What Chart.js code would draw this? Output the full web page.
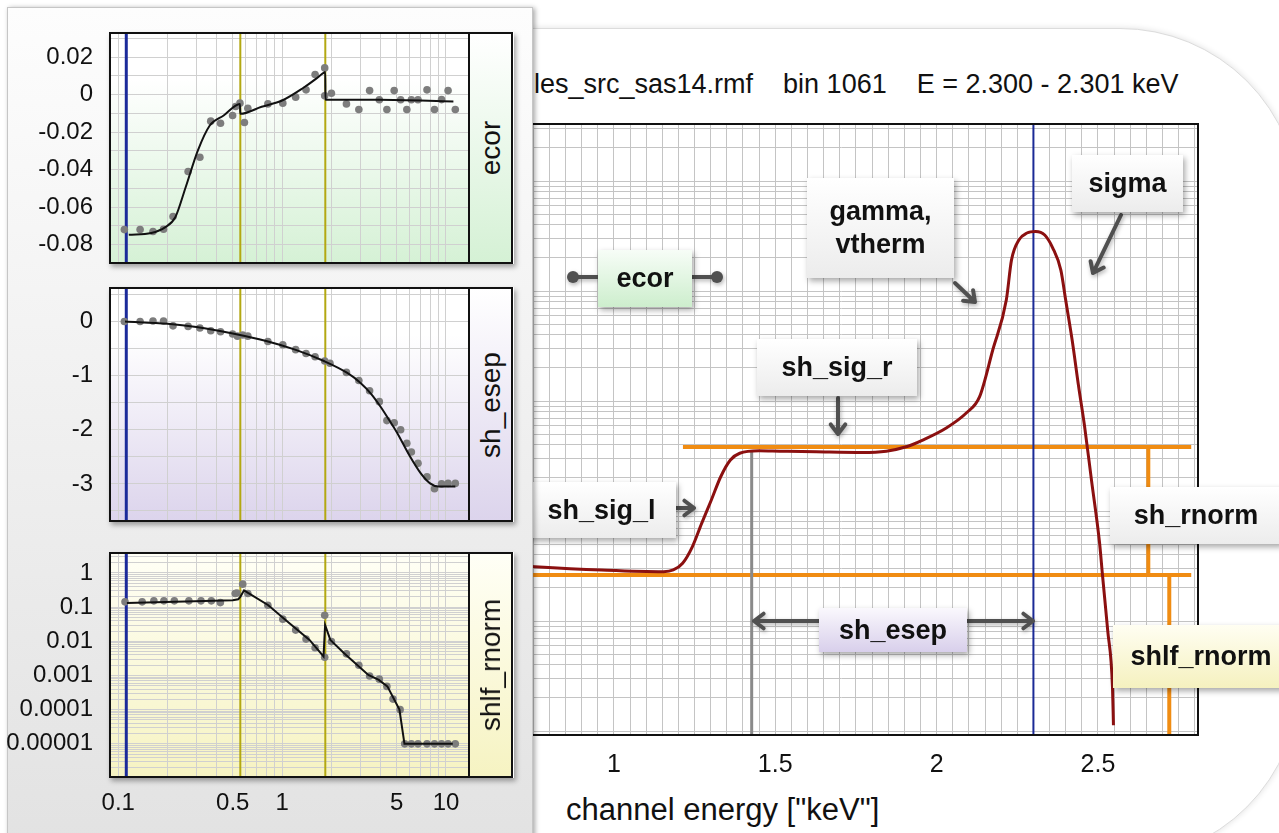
<!DOCTYPE html>
<html>
<head>
<meta charset="utf-8">
<title>rmf channel response</title>
<script src="https://cdn.jsdelivr.net/npm/chart.js@4.4.1/dist/chart.umd.min.js"></script>
<style>
body { margin:0; width:1279px; height:833px; overflow:hidden; position:relative; background:#fff;
       font-family:"Liberation Sans", Arial, Helvetica, sans-serif; color:#111; }
.abs { position:absolute; }
#card { left:500px; top:28px; width:800px; height:832px; box-sizing:border-box; border:1px solid #dcdcdc;
        border-radius:0 180px 180px 0; box-shadow:0 0 6px rgba(0,0,0,0.12); background:#fff; }
#title { left:534px; top:68px; font-size:27px; line-height:32px; white-space:pre; }
#xtitle { left:566px; top:790px; font-size:31px; line-height:40px; white-space:pre; }
#main { left:470px; top:100px; }
#arrows { left:0; top:0; z-index:5; pointer-events:none; filter:drop-shadow(1px 2px 2px rgba(0,0,0,0.3)); }
.tag { position:absolute; z-index:6; box-sizing:border-box; display:flex; align-items:center; justify-content:center;
       text-align:center; font-weight:bold; font-size:27px; line-height:33px; color:#111;
       background:linear-gradient(#ffffff,#ececec); box-shadow:2px 3px 6px rgba(0,0,0,0.35); }
#leftbox { left:7px; top:7px; width:526px; height:850px; box-sizing:border-box; z-index:10;
           background:linear-gradient(#fdfdfd,#e2e2e2); border:1px solid #c6c6c6; box-shadow:2px 1px 5px rgba(0,0,0,0.35); }
.shadow { z-index:11; background:#fff; box-shadow:2px 3px 5px rgba(0,0,0,0.35); }
.pc { z-index:12; }
.strip { z-index:13; box-sizing:border-box; border:2px solid #111; }
.strip span { position:absolute; left:50%; top:50%; transform:translate(-50%,-50%) rotate(-90deg);
              font-size:28px; white-space:nowrap; }
</style>
</head>
<body>
<div id="card" class="abs"></div>
<div id="title" class="abs">les_src_sas14.rmf    bin 1061    E = 2.300 - 2.301 keV</div>
<canvas id="main" class="abs" width="740" height="675"></canvas>
<div id="xtitle" class="abs">channel energy ["keV"]</div>

<svg id="arrows" class="abs" width="1279" height="833"></svg>

<div class="tag" style="left:598px;top:250px;width:94px;height:57px;background:linear-gradient(#f7fdf7,#cdeecd)">ecor</div>
<div class="tag" style="left:807px;top:178px;width:147px;height:100px">gamma,<br>vtherm</div>
<div class="tag" style="left:1072px;top:155px;width:111px;height:57px">sigma</div>
<div class="tag" style="left:757px;top:339px;width:160px;height:57px">sh_sig_r</div>
<div class="tag" style="left:527px;top:482px;width:149px;height:56px">sh_sig_l</div>
<div class="tag" style="left:1110px;top:487px;width:172px;height:57px">sh_rnorm</div>
<div class="tag" style="left:1113px;top:625px;width:176px;height:63px;background:linear-gradient(#fffef2,#f5f1bf)">shlf_rnorm</div>
<div class="tag" style="left:819px;top:608px;width:148px;height:44px;background:linear-gradient(#faf8fd,#d8cfeb)">sh_esep</div>

<div id="leftbox" class="abs"></div>

<div class="abs shadow" style="left:109px;top:32px;width:405px;height:232px"></div>
<canvas id="p1" class="abs pc" style="left:0;top:21px" width="475" height="254"></canvas>
<div class="abs strip" style="left:468px;top:32px;width:45px;height:232px;background:linear-gradient(#ffffff,#d5f1d5)"><span>ecor</span></div>

<div class="abs shadow" style="left:109px;top:287px;width:405px;height:235px"></div>
<canvas id="p2" class="abs pc" style="left:0;top:276px" width="475" height="257"></canvas>
<div class="abs strip" style="left:468px;top:287px;width:45px;height:235px;background:linear-gradient(#ffffff,#dcd4ec)"><span>sh_esep</span></div>

<div class="abs shadow" style="left:109px;top:552px;width:405px;height:226px"></div>
<canvas id="p3" class="abs pc" style="left:0;top:541px" width="475" height="281"></canvas>
<div class="abs strip" style="left:468px;top:552px;width:45px;height:226px;background:linear-gradient(#fffff6,#f6f3c2)"><span>shlf_rnorm</span></div>

<script>
Chart.defaults.font.family = '"Liberation Sans", Arial, Helvetica, sans-serif';
Chart.defaults.color = '#111';

// ---- main panel: response of channel bin 1061 ----
const chanEnergy = [0.70, 0.755, 0.962, 1.154, 1.184, 1.213, 1.243, 1.272, 1.302, 1.331, 1.361, 1.390,
  1.450, 1.514, 1.627, 1.771, 1.844, 1.906, 1.957, 2.030, 2.092, 2.133, 2.174, 2.216, 2.232, 2.255,
  2.280, 2.307, 2.335, 2.360, 2.385, 2.400, 2.420, 2.440, 2.458, 2.480, 2.505, 2.514, 2.530, 2.545, 2.548];
const chanResp = [3.2e-4, 3.12e-4, 2.91e-4, 2.81e-4, 2.91e-4, 3.35e-4, 4.73e-4, 7.73e-4, 1.26e-3, 2.05e-3, 2.91e-3, 3.35e-3,
  3.53e-3, 3.5e-3, 3.45e-3, 3.4e-3, 3.5e-3, 3.84e-3, 4.42e-3, 5.69e-3, 7.78e-3, 0.0109, 0.0291, 0.0828, 0.191, 0.291,
  0.337, 0.348, 0.323, 0.246, 0.155, 0.0828, 0.0359, 0.0136, 6.05e-3, 1.9e-3, 5.12e-4, 2.62e-4, 8.3e-5, 2.51e-5, 1.13e-5];
const mainXTicks = [1, 1.5, 2, 2.5];
const mainX = [0.6, 2.81];
const mainY = [9.2e-6, 3.3];
const chanE = 2.3;          // blue line
const esepE = 1.427;        // grey line, shoulder edge
const esepTop = 3.45e-3;
const shelfHi = 3.82e-3;    // orange levels
const shelfLo = 2.62e-4;
const shelfHiStart = 1.214;
const shelfEnd = 2.789;
const shRnormE = 2.656;
const shlfRnormE = 2.721;

// ---- left panels: parameters vs energy ----
const parXTicks = [0.1, 0.5, 1, 5, 10];
const parX = [0.0891, 13.82];
const blueE = 0.112;
const edgeE = [0.556, 1.835];

const ecorPtE = [0.109, 0.136, 0.163, 0.189, 0.216, 0.267, 0.315, 0.367, 0.421, 0.499, 0.521, 0.553, 0.589, 0.618,
  0.819, 1.01, 1.21, 1.40, 1.59, 1.82, 1.82, 2.0, 2.47, 2.94, 3.42, 3.92, 4.36, 4.83, 5.29, 5.77, 6.15, 6.75,
  7.66, 8.51, 9.4, 10.3, 11.4];
const ecorPtV = [-0.072, -0.072, -0.073, -0.0718, -0.065, -0.041, -0.0334, -0.0142, -0.0153, -0.0112, -0.0064,
  -0.0046, -0.0149, -0.0073, -0.005, -0.0046, -0.0014, 0.0025, 0.0107, 0.0142, -0.0007, 0.0007, -0.005, -0.008,
  0.0021, -0.0028, -0.008, 0.0021, -0.0028, -0.008, -0.0028, -0.0028, 0.0025, -0.008, -0.0027, 0.0021, -0.008];
const ecorFitE = [0.116, 0.159, 0.193, 0.223, 0.258, 0.306, 0.362, 0.44, 0.553, 0.556, 0.75, 1.0, 1.35, 1.6,
  1.78, 1.835, 1.838, 3.9, 11.1];
const ecorFitV = [-0.0748, -0.0738, -0.0708, -0.0654, -0.0494, -0.0299, -0.0165, -0.0112, -0.005, -0.0103,
  -0.0065, -0.0032, 0.0036, 0.0082, 0.0114, 0.012, -0.0028, -0.0028, -0.0037];
const ecorY = [-0.0898, 0.0328];
const ecorYTicks = [0.02, 0, -0.02, -0.04, -0.06, -0.08];

const esepPtE = [0.109, 0.136, 0.163, 0.189, 0.216, 0.267, 0.315, 0.367, 0.421, 0.499, 0.534, 0.575, 0.618,
  0.819, 1.01, 1.21, 1.40, 1.59, 1.82, 1.96, 2.47, 2.94, 3.42, 3.92, 4.36, 4.83, 5.29, 5.77, 6.15, 6.75, 7.66,
  8.51, 9.4, 10.3, 11.4];
const esepPtV = [0, 0, 0.01, 0.01, -0.08, -0.09, -0.12, -0.17, -0.19, -0.23, -0.27, -0.25, -0.27, -0.37, -0.43,
  -0.52, -0.59, -0.65, -0.73, -0.77, -0.94, -1.09, -1.28, -1.48, -1.83, -1.87, -2.0, -2.25, -2.41, -2.62, -2.87,
  -3.09, -3.0, -2.99, -2.99];
const esepFitE = [0.11, 0.2, 0.3, 0.5, 0.8, 1.2, 1.8, 2.5, 3.0, 3.5, 4.0, 4.5, 5.0, 6.0, 7.0, 8.0, 9.0, 11.4];
const esepFitV = [0, -0.04, -0.1, -0.22, -0.36, -0.52, -0.73, -0.95, -1.13, -1.34, -1.58, -1.82, -2.04, -2.48,
  -2.8, -2.99, -3.05, -3.05];
const esepY = [-3.685, 0.619];
const esepYTicks = [0, -1, -2, -3];

const rnormPtE = [0.11, 0.14, 0.165, 0.19, 0.22, 0.27, 0.32, 0.37, 0.42, 0.517, 0.53, 0.575, 0.618, 0.819, 1.01,
  1.21, 1.40, 1.59, 1.82, 1.82, 2.0, 2.47, 2.94, 3.42, 3.92, 4.36, 4.75, 5.25, 5.6, 6.15, 6.75, 7.66, 8.51, 9.4,
  10.3, 11.4];
const rnormPtV = [0.143, 0.143, 0.153, 0.153, 0.153, 0.153, 0.153, 0.153, 0.136, 0.25, 0.26, 0.47, 0.25, 0.114,
  0.0445, 0.0213, 0.0116, 0.0065, 0.058, 0.0034, 0.0098, 0.0043, 0.002, 0.00097, 0.00078, 0.00048, 0.000204,
  0.0001, 1e-5, 1e-5, 1e-5, 1e-5, 1e-5, 1e-5, 1e-5, 1e-5];
const rnormFitE = [0.113, 0.5, 0.54, 0.556, 0.586, 0.62, 0.824, 1.05, 1.47, 1.79, 1.83, 1.97, 2.39, 3.36, 3.89, 4.39, 5.2, 5.58, 11.0];
const rnormFitV = [0.133, 0.16, 0.17, 0.2, 0.31, 0.26, 0.114, 0.042, 0.011, 0.0036, 0.03, 0.011, 0.0045,
  0.00104, 0.00074, 0.00048, 0.0001, 1e-5, 1e-5];
const rnormY = [1.07e-6, 3.84];
const rnormYTicks = [1, 0.1, 0.01, 0.001, 0.0001, 0.00001];

// helpers
function xy(xs, ys) { return xs.map((x, i) => ({ x: x, y: ys[i] })); }
function seg(x0, y0, x1, y1, color, w) {
  return { data: [{ x: x0, y: y0 }, { x: x1, y: y1 }], borderColor: color, borderWidth: w,
           pointRadius: 0, borderCapStyle: 'butt', tension: 0 };
}
function logTicks(lo, hi) {
  const out = [];
  for (let e = Math.floor(Math.log10(lo)); e <= Math.ceil(Math.log10(hi)); e++) {
    for (let s = 1; s <= 9; s++) {
      const v = e < 0 ? s / Math.pow(10, -e) : s * Math.pow(10, e);
      if (v >= lo && v <= hi) out.push(v);
    }
  }
  return out;
}
function stepTicks(lo, hi, div) {
  const out = [];
  for (let k = Math.ceil(lo * div); k <= Math.floor(hi * div); k++) out.push(k / div);
  return out;
}
function setTicks(vals) { return s => { s.ticks = vals.map(v => ({ value: v })); }; }

// plot background + frame
const plotBg = {
  id: 'plotBg',
  beforeDraw(chart, args, o) {
    if (!o.to) return;
    const a = chart.chartArea, c = chart.ctx;
    const g = c.createLinearGradient(0, a.top, 0, a.bottom);
    g.addColorStop(0, o.from);
    g.addColorStop(o.mid || 0, o.from);
    g.addColorStop(1, o.to);
    c.save();
    c.fillStyle = g;
    c.fillRect(a.left, a.top, a.right - a.left, a.bottom - a.top);
    c.restore();
  }
};
const frame = {
  id: 'frame',
  afterDraw(chart) {
    const a = chart.chartArea, c = chart.ctx;
    c.save();
    c.strokeStyle = '#111';
    c.lineWidth = 2;
    c.strokeRect(a.left, a.top, a.right - a.left, a.bottom - a.top);
    c.restore();
  }
};

// ---- main chart ----
new Chart(document.getElementById('main'), {
  type: 'line',
  data: {
    datasets: [
      { data: xy(chanEnergy, chanResp), borderColor: '#8b1010', borderWidth: 3, pointRadius: 0,
        cubicInterpolationMode: 'monotone' },
      seg(chanE, mainY[0], chanE, mainY[1], '#1b2a96', 2),
      seg(esepE, esepTop, esepE, mainY[0], '#8a8a8a', 3),
      seg(shelfHiStart, shelfHi, shelfEnd, shelfHi, '#f08c12', 4),
      seg(mainX[0], shelfLo, shelfEnd, shelfLo, '#f08c12', 4),
      seg(shRnormE, shelfHi, shRnormE, shelfLo, '#f08c12', 4),
      seg(shlfRnormE, shelfLo, shlfRnormE, mainY[0], '#f08c12', 4)
    ]
  },
  options: {
    responsive: false, animation: false, events: [],
    layout: { padding: { left: 14.8, right: 12, top: 24, bottom: 0 } },
    plugins: { legend: { display: false }, tooltip: { enabled: false } },
    scales: {
      x: {
        type: 'linear', min: mainX[0], max: mainX[1],
        afterBuildTicks: setTicks(stepTicks(mainX[0], mainX[1], 20)),
        afterFit: s => { s.height = 40; s.paddingLeft = 0; s.paddingRight = 0; },
        grid: { color: '#c4c4c4', drawTicks: false },
        border: { display: false },
        ticks: { autoSkip: false, maxRotation: 0, padding: 15, font: { size: 25 },
                 callback: v => mainXTicks.includes(v) ? String(v) : '' }
      },
      y: {
        type: 'logarithmic', min: mainY[0], max: mainY[1],
        afterBuildTicks: setTicks(logTicks(mainY[0], mainY[1])),
        afterFit: s => { s.width = 0; s.paddingTop = 0; s.paddingBottom = 0; },
        grid: { color: '#c4c4c4', drawTicks: false },
        border: { display: false },
        ticks: { display: false }
      }
    }
  },
  plugins: [frame]
});

// ---- parameter panels ----
function panel(id, p) {
  const ds = [
    Object.assign({ data: xy(p.fitE, p.fitV), borderColor: '#111', borderWidth: 2, pointRadius: 0 },
                  p.smooth ? { cubicInterpolationMode: 'monotone' } : { tension: 0 }),
    { data: xy(p.ptE, p.ptV), showLine: false, pointRadius: 3.8, pointBorderWidth: 0,
      pointBackgroundColor: '#7d7d7d' },
    seg(blueE, p.y[0], blueE, p.y[1], '#1b2a9a', 3)
  ];
  edgeE.forEach(e => ds.push(seg(e, p.y[0], e, p.y[1], '#b3a812', 2)));

  new Chart(document.getElementById(id), {
    type: 'line',
    data: { datasets: ds },
    options: {
      responsive: false, animation: false, events: [],
      layout: { padding: { left: 0, right: 6, top: 12, bottom: 0 } },
      plugins: { legend: { display: false }, tooltip: { enabled: false }, plotBg: p.bg },
      scales: {
        x: {
          type: 'logarithmic', min: parX[0], max: parX[1],
          afterBuildTicks: setTicks(logTicks(0.1, 10)),
          afterFit: s => { s.height = p.xh; s.paddingLeft = 0; s.paddingRight = 0; },
          grid: { color: '#d0d0d0', drawTicks: false },
          border: { display: false },
          ticks: { display: p.showX, autoSkip: false, maxRotation: 0, padding: 12, font: { size: 24 },
                   callback: v => parXTicks.includes(v) ? String(v) : '' }
        },
        y: {
          type: p.log ? 'logarithmic' : 'linear', min: p.y[0], max: p.y[1],
          afterBuildTicks: setTicks(p.grid),
          afterFit: s => { s.width = 110; s.paddingTop = 0; s.paddingBottom = 0; },
          grid: { color: '#d0d0d0', drawTicks: false },
          border: { display: false },
          ticks: { autoSkip: false, padding: 17, font: { size: 24 },
                   callback: v => p.labels.includes(v) ? p.fmt(v) : '' }
        }
      }
    },
    plugins: [plotBg, frame]
  });
}

panel('p1', {
  ptE: ecorPtE, ptV: ecorPtV, fitE: ecorFitE, fitV: ecorFitV, smooth: true,
  y: ecorY, grid: stepTicks(ecorY[0], ecorY[1], 100), labels: ecorYTicks,
  fmt: v => v === 0 ? '0' : v.toFixed(2), showX: false, xh: 12,
  bg: { from: '#ffffff', mid: 0.2, to: '#d5f1d5' }
});
panel('p2', {
  ptE: esepPtE, ptV: esepPtV, fitE: esepFitE, fitV: esepFitV, smooth: true,
  y: esepY, grid: stepTicks(esepY[0], esepY[1], 2), labels: esepYTicks,
  fmt: v => String(v), showX: false, xh: 12,
  bg: { from: '#ffffff', mid: 0.2, to: '#dcd4ec' }
});
panel('p3', {
  ptE: rnormPtE, ptV: rnormPtV, fitE: rnormFitE, fitV: rnormFitV, smooth: false, log: true,
  y: rnormY, grid: logTicks(rnormY[0], rnormY[1]), labels: rnormYTicks,
  fmt: v => v >= 1 ? String(v) : v.toFixed(Math.round(-Math.log10(v))), showX: true, xh: 45,
  bg: { from: '#fffff6', mid: 0, to: '#f6f3c2' }
});

// ---- annotation arrows ----
const svg = document.getElementById('arrows');
const NS = 'http://www.w3.org/2000/svg';
function el(name, attrs) {
  const e = document.createElementNS(NS, name);
  for (const k in attrs) e.setAttribute(k, attrs[k]);
  svg.appendChild(e);
  return e;
}
function arrow(x1, y1, x2, y2) {
  const a = Math.atan2(y2 - y1, x2 - x1), h = 12;
  const d = `M${x1} ${y1} L${x2} ${y2} M${x2 - h * Math.cos(a - 0.65)} ${y2 - h * Math.sin(a - 0.65)} L${x2} ${y2} ` +
            `L${x2 - h * Math.cos(a + 0.65)} ${y2 - h * Math.sin(a + 0.65)}`;
  el('path', { d: d, stroke: '#505050', 'stroke-width': 4, fill: 'none', 'stroke-linecap': 'round', 'stroke-linejoin': 'round' });
}
arrow(666, 508, 694, 508);
arrow(838, 398, 838, 434);
arrow(955, 283, 975, 302);
arrow(1121, 215, 1093, 273);
arrow(819, 621, 754, 621);
arrow(967, 621, 1033, 621);
el('path', { d: 'M573 277 L598 277 M692 277 L717 277', stroke: '#505050', 'stroke-width': 4, fill: 'none' });
el('circle', { cx: 573, cy: 277, r: 6, fill: '#505050' });
el('circle', { cx: 717, cy: 277, r: 6, fill: '#505050' });
</script>
</body>
</html>
